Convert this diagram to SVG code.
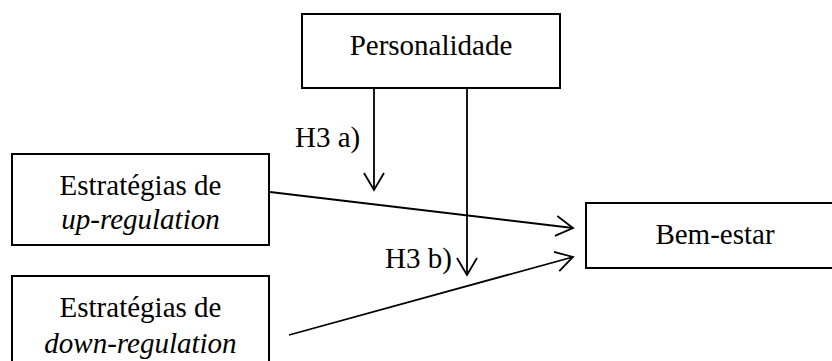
<svg xmlns="http://www.w3.org/2000/svg" width="832" height="361" viewBox="0 0 832 361">
<style>
.box{fill:#fff;stroke:#000;stroke-width:2}
.c{stroke:#000;stroke-width:1.8;fill:none}
</style>
<defs>
<marker id="ah" markerUnits="userSpaceOnUse" viewBox="-19 -12 21 24" refX="0" refY="0" markerWidth="21" markerHeight="24" orient="auto">
<path d="M-17,-10 L0,0 L-17,10" fill="none" stroke="#000" stroke-width="1.8"/>
</marker>
</defs>
<rect width="832" height="361" fill="#fff"/>
<g id="connectors">
<line class="c" x1="374" y1="88" x2="374" y2="190" marker-end="url(#ah)"/>
<line class="c" x1="467" y1="88" x2="467" y2="275" marker-end="url(#ah)"/>
<line class="c" x1="270" y1="192" x2="573" y2="228" marker-end="url(#ah)"/>
<line class="c" x1="289" y1="335" x2="573" y2="257" marker-end="url(#ah)"/>
<text x="295" y="147" font-family="Liberation Serif" font-size="29">H3 a)</text>
<text x="385" y="268" font-family="Liberation Serif" font-size="29">H3 b)</text>
</g>
<g id="personalidade">
<rect class="box" x="302" y="14" width="258" height="74"/>
<text x="431" y="55" font-family="Liberation Serif" font-size="29" text-anchor="middle">Personalidade</text>
</g>
<g id="up">
<rect class="box" x="12" y="154" width="257" height="91"/>
<text x="140.5" y="195" font-family="Liberation Serif" font-size="29" text-anchor="middle">Estratégias de</text>
<text x="140.5" y="229" font-family="Liberation Serif" font-size="29" font-style="italic" text-anchor="middle">up-regulation</text>
</g>
<g id="down">
<rect class="box" x="12" y="276" width="257" height="100"/>
<text x="140.5" y="317" font-family="Liberation Serif" font-size="29" text-anchor="middle">Estratégias de</text>
<text x="140.5" y="353" font-family="Liberation Serif" font-size="29" font-style="italic" text-anchor="middle">down-regulation</text>
</g>
<g id="bemestar">
<rect class="box" x="586" y="203" width="260" height="65"/>
<text x="715" y="244" font-family="Liberation Serif" font-size="29" text-anchor="middle">Bem-estar</text>
</g>
</svg>
